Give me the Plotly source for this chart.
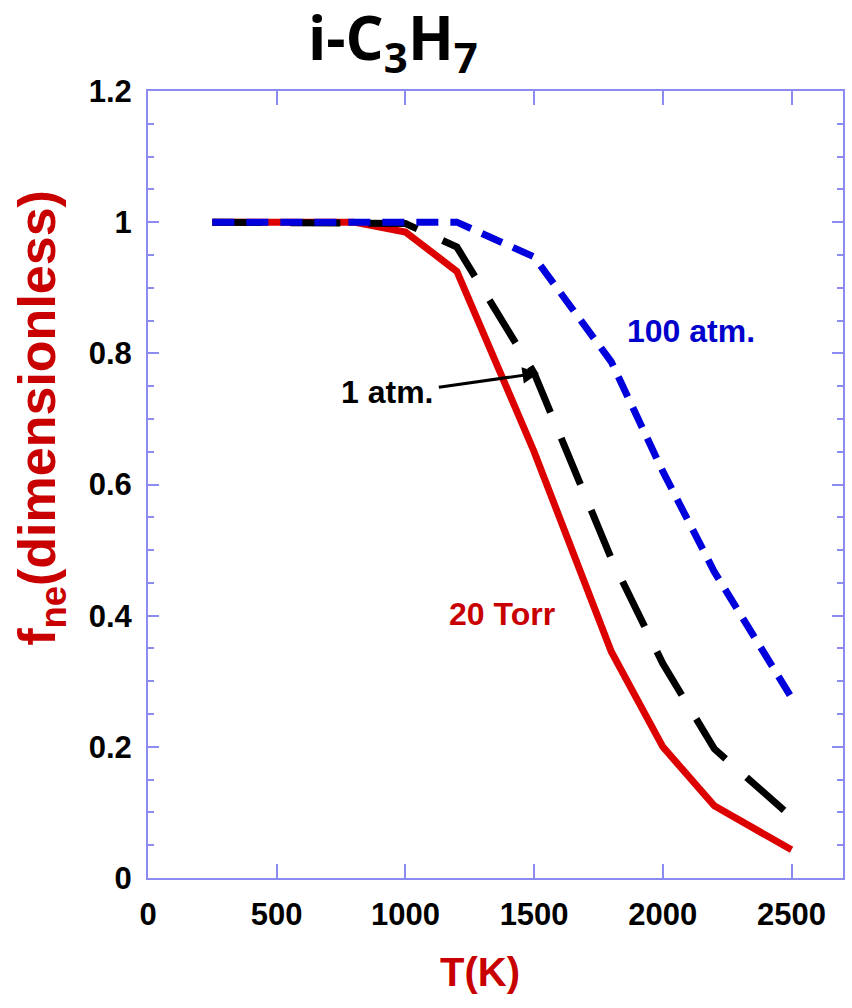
import plotly.graph_objects as go

# Temperatures (K) and f_ne values
T = [250, 500, 800, 1000, 1200, 1500, 1800, 2000, 2200, 2500]
f_20torr = [1.0, 1.0, 1.0, 0.985, 0.925, 0.65, 0.345, 0.2, 0.11, 0.043]
f_1atm = [1.0, 1.0, 1.0, 0.998, 0.962, 0.77, 0.487, 0.327, 0.197, 0.093]
f_100atm = [1.0, 1.0, 1.0, 1.0, 1.0, 0.947, 0.787, 0.62, 0.467, 0.275]

x_ticks = [0, 500, 1000, 1500, 2000, 2500]
y_ticks = [0, 0.2, 0.4, 0.6, 0.8, 1, 1.2]
y_ticktext = ["0", "0.2", "0.4", "0.6", "0.8", "1", "1.2"]

FONT = "Liberation Sans, Arial, sans-serif"
AXIS_COLOR = "#8c8cf0"
RED = "#dd0000"
TXT_RED = "#c80000"
BLUE = "#0000dd"

fig = go.Figure()
fig.add_trace(go.Scatter(x=T, y=f_20torr, mode="lines", name="20 Torr",
                         line=dict(color=RED, width=7)))
fig.add_trace(go.Scatter(x=T, y=f_1atm, mode="lines", name="1 atm.",
                         line=dict(color="black", width=7, dash="50px,28px")))
fig.add_trace(go.Scatter(x=T, y=f_100atm, mode="lines", name="100 atm.",
                         line=dict(color=BLUE, width=7, dash="22px,12px")))

PL, PR = 147.5, 845.0
PT, PB = 91.0, 878.3
W, H = 852, 1008

def px2paper_x(px):
    return (px - PL) / (PR - PL)

def px2paper_y(py):
    return (PB - py) / (PB - PT)

fig.update_layout(
    width=W, height=H,
    margin=dict(l=PL, r=W - PR, t=PT, b=H - PB, pad=0),
    paper_bgcolor="white", plot_bgcolor="white",
    showlegend=False,
    font=dict(family=FONT, size=30, color="black"),
)

fig.update_xaxes(
    range=[0, 2700], tickvals=x_ticks, ticktext=[str(v) for v in x_ticks],
    ticks="inside", ticklen=14, tickwidth=1.5, tickcolor=AXIS_COLOR,
    showline=True, linecolor=AXIS_COLOR, linewidth=2, mirror="ticks",
    showgrid=False, zeroline=False,
    tickfont=dict(family=FONT, size=31, color="black", weight="bold"),
    ticklabelstandoff=8,
)
fig.update_yaxes(
    range=[0, 1.2], tickvals=y_ticks, ticktext=y_ticktext,
    ticks="inside", ticklen=11, tickwidth=1.5, tickcolor=AXIS_COLOR,
    minor=dict(ticks="inside", ticklen=6, dtick=0.05, tickcolor=AXIS_COLOR, tickwidth=1.5),
    showline=True, linecolor=AXIS_COLOR, linewidth=2, mirror="ticks",
    showgrid=False, zeroline=False,
    tickfont=dict(family=FONT, size=31, color="black", weight="bold"),
    ticklabelstandoff=8,
)

annotations = [
    # title
    dict(text="i-C<sub>3</sub>H<sub>7</sub>", xref="paper", yref="paper",
         x=px2paper_x(393), y=px2paper_y(40), xanchor="center", yanchor="middle",
         showarrow=False, font=dict(family="Open Sans, Lato, sans-serif", size=60,
                                    color="black", weight="bold")),
    # y-axis title
    dict(text="f<sub>ne</sub>(dimensionless)", xref="paper", yref="paper",
         x=px2paper_x(40), y=px2paper_y(418), xanchor="center", yanchor="middle",
         textangle=-90, showarrow=False,
         font=dict(family=FONT, size=52, color=TXT_RED, weight="bold")),
    # x-axis title
    dict(text="T(K)", xref="paper", yref="paper",
         x=px2paper_x(481), y=px2paper_y(972), xanchor="center", yanchor="middle",
         showarrow=False, font=dict(family=FONT, size=40, color=TXT_RED, weight="bold")),
    # series labels
    dict(text="100 atm.", x=2109, y=0.834, xref="x", yref="y", showarrow=False,
         font=dict(family=FONT, size=32, color="#0000cc", weight="bold")),
    dict(text="20 Torr", x=1376, y=0.403, xref="x", yref="y", showarrow=False,
         font=dict(family=FONT, size=32, color=TXT_RED, weight="bold")),
    dict(text="1 atm.", x=929, y=0.741, xref="x", yref="y", showarrow=False,
         font=dict(family=FONT, size=32, color="black", weight="bold")),
    # arrow
    dict(text="", x=1519, y=0.770, ax=1124, ay=0.748, xref="x", yref="y",
         axref="x", ayref="y", showarrow=True, arrowhead=2, arrowsize=1.1,
         arrowwidth=3, arrowcolor="black"),
]
fig.update_layout(annotations=annotations)

fig.write_html("out.html")
